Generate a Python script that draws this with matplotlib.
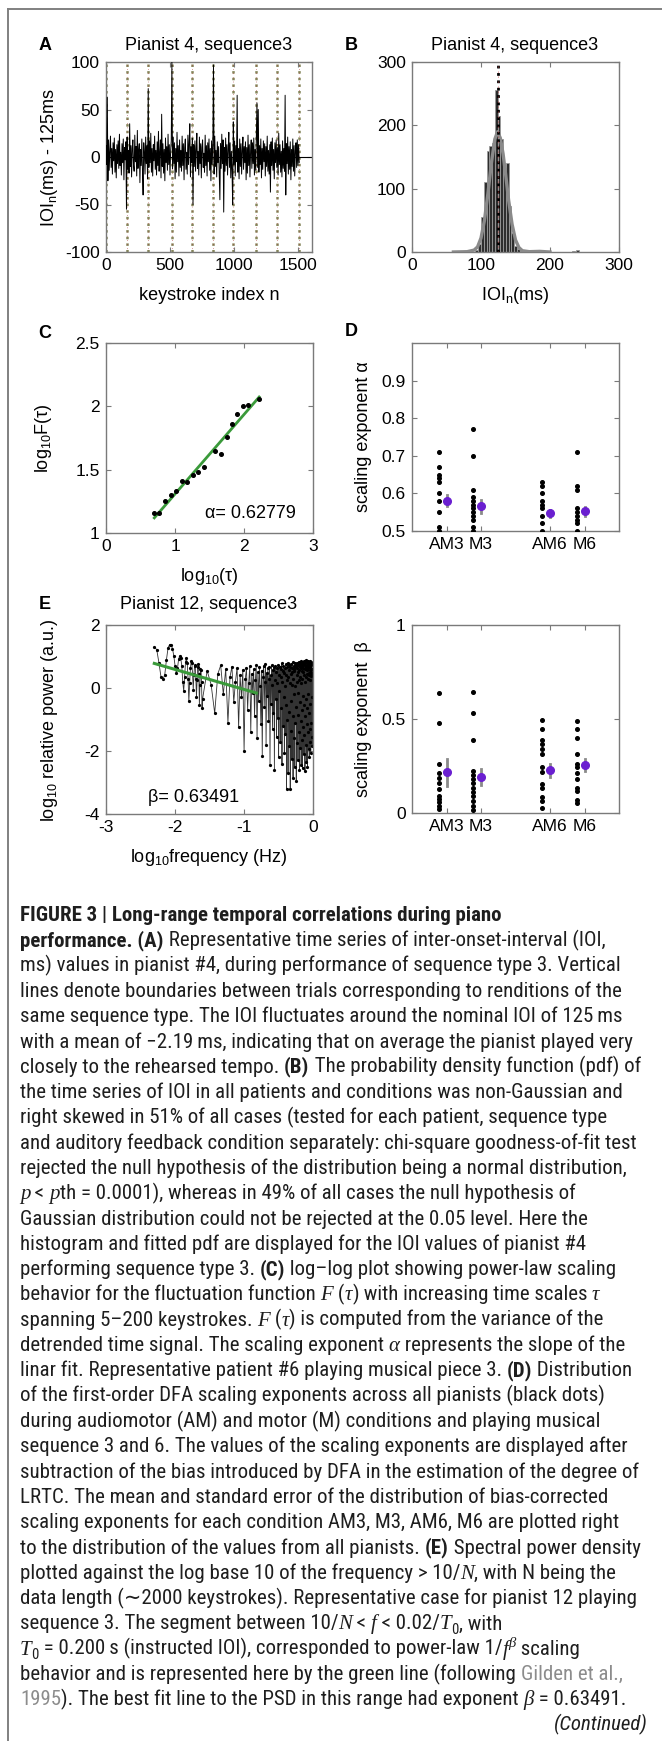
import matplotlib
matplotlib.use('Agg')
import matplotlib.pyplot as plt
import matplotlib.font_manager as fm
import numpy as np
from matplotlib.lines import Line2D
from matplotlib.font_manager import FontProperties

plt.rcParams['font.family'] = ['Liberation Sans', 'DejaVu Sans']
plt.rcParams['axes.unicode_minus'] = False
plt.rcParams['mathtext.fontset'] = 'custom'
plt.rcParams['mathtext.rm'] = 'Liberation Sans'
plt.rcParams['mathtext.it'] = 'Liberation Sans:italic'
plt.rcParams['mathtext.bf'] = 'Liberation Sans:bold'

# ---------------- data ----------------
# A: IOI deviation (ms), one value every 5 keystrokes
ioi_step = 5
ioi_dev = [
    12, -8, 63, -25, 18, -14, 6, 22, -11, 9, -18, 15, -4, 20, -16, 8, -22, 13, -7, 17,
    -12, 24, -9, 5, -19, 14, -6, 19, -24, 10, -3, 16, -55, 21, -13, 7, -17, 35, -10, 12,
    -21, 9, 18, -8, -15, 23, -5, 11, -20, 28, -12, 6, 14, -27, 8, -9, 19, -14, -40, 15,
    4, -18, 21, -7, 12, -23, 72, -11, 17, -6, 25, -16, 9, -20, 13, -4, 22, -13, 7, -19,
    16, -9, 27, -15, 5, 18, -22, 45, -10, 14, -17, 8, -25, 20, -6, 11, -14, 24, -8, 13,
    -19, 6, 17, 100, -12, 21, -7, 15, -23, 9, -16, 26, -5, 12, -20, 18, -11, 7, -15, 22,
    -9, 14, -24, 10, 19, -13, 5, -18, 23, -8, 16, 35, -21, 11, -6, 20, -50, 13, -10, 17,
    -15, 8, 25, -12, 6, -19, 21, -7, 14, -22, 10, 18, -11, 4, -16, 23, -9, 12, -20, 15,
    -5, 19, -14, 9, -25, 17, -8, 13, 97, -18, 22, -10, 7, -21, 16, -6, 11, -17, -45, 14,
    -12, 24, -7, 18, -58, 10, -15, 20, -9, 13, -19, 8, 26, -11, 15, -22, 6, -14, -50, 37,
    -8, 17, -20, 12, -5, 65, -16, 9, -23, 19, -10, 14, -18, 7, 21, -13, 11, -6, 16, -24,
    10, -17, 23, -9, 13, -21, 6, 18, -12, 15, -7, 20, -19, 8, -14, 24, 57, -11, 50, -16,
    12, -8, 19, -22, 9, -13, 17, -5, 14, -20, 11, -10, 22, -15, 7, -18, 13, -37, 16, -9,
    20, -14, 8, -23, 15, -6, 18, -11, 10, -19, 25, -8, 13, -16, 6, -21, 17, -12, 9, -15,
    65, -40, 14, -7, 21, -18, 11, -13, 16, -24, 8, -10, 19, -15, 12, -20, 7, 15, -11, 18,
    -9, 13, -6]
trial_bounds = [0, 163, 327, 514, 671, 840, 996, 1174, 1336, 1510]

# B: histogram of IOI (ms)
hist_centers = [70, 94, 98, 102, 106, 110, 114, 118, 122, 126, 130, 134, 138, 142, 146, 150, 154, 158, 190, 234, 240]
hist_counts = [2, 3, 12, 55, 110, 160, 168, 172, 255, 215, 178, 132, 140, 72, 30, 10, 4, 2, 1, 2, 3]
fit_x = [60, 80, 90, 95, 100, 105, 110, 115, 120, 124, 128, 132, 136, 140, 145, 150, 155, 160, 170, 185, 200]
fit_y = [0, 0.5, 3, 8, 22, 50, 92, 140, 178, 190, 180, 155, 120, 82, 44, 19, 7, 2, 0.5, 1, 0]
nominal_ioi = 125

# C: DFA fluctuation function
log_tau = [0.70, 0.77, 0.85, 0.94, 1.02, 1.10, 1.18, 1.26, 1.34, 1.42, 1.58, 1.66, 1.75, 1.82, 1.90, 1.98, 2.06, 2.22]
log_F = [1.16, 1.155, 1.25, 1.30, 1.33, 1.41, 1.40, 1.46, 1.48, 1.52, 1.65, 1.62, 1.76, 1.86, 1.94, 2.00, 2.01, 2.06]
alpha = 0.62779
alpha_icpt = 0.68
alpha_range = [0.70, 2.22]

# D / F: scaling exponents per condition
conds = ['AM3', 'M3', 'AM6', 'M6']
cond_pos = [1, 2, 4, 5]
alpha_vals = [
    [0.71, 0.67, 0.65, 0.64, 0.63, 0.60, 0.58, 0.55, 0.51, 0.50],
    [0.77, 0.70, 0.61, 0.59, 0.58, 0.57, 0.56, 0.55, 0.54, 0.53, 0.51, 0.50],
    [0.63, 0.62, 0.60, 0.58, 0.57, 0.56, 0.54, 0.52, 0.50],
    [0.71, 0.62, 0.61, 0.56, 0.55, 0.54, 0.53, 0.52, 0.50]]
alpha_mean = [0.581, 0.566, 0.547, 0.553]
alpha_sem = [0.015, 0.017, 0.010, 0.012]
beta_vals = [
    [0.637, 0.478, 0.262, 0.212, 0.186, 0.159, 0.127, 0.092, 0.074, 0.057, 0.039, 0.021],
    [0.642, 0.531, 0.389, 0.223, 0.204, 0.181, 0.159, 0.133, 0.112, 0.092, 0.062, 0.039, 0.018],
    [0.496, 0.448, 0.386, 0.368, 0.343, 0.315, 0.244, 0.218, 0.156, 0.133, 0.083, 0.062, 0.027],
    [0.490, 0.448, 0.398, 0.313, 0.260, 0.244, 0.212, 0.181, 0.133, 0.119, 0.071, 0.053]]
beta_mean = [0.216, 0.193, 0.227, 0.255]
beta_sem = [0.071, 0.042, 0.033, 0.030]

# E: power spectrum, frequency bins k * df
psd_df = 10 ** -3.379
psd_bins = np.r_[np.arange(12, 60), np.arange(60, 2340, 10)]
psd_log = [
    1.30, 1.22, 0.80, 0.35, 0.27, 0.42, 0.90, 1.28, 1.38, 1.37, 1.25, 1.02,
    0.70, 0.48, 0.62, 0.92, 1.02, 0.95, 0.70, 0.20, -0.10, 0.35, 0.82, 0.95,
    0.78, 0.30, -0.42, 0.15, 0.62, 0.85, 0.80, 0.45, -0.05, 0.40, 0.72, 0.70,
    0.30, -0.30, 0.25, 0.68, 0.75, 0.45, -0.55, 0.10, 0.60, 0.58, 0.20, -0.62,
    -0.35, 0.55, 0.10, -0.80, 0.45, 0.72, -0.20, 0.60, -1.10, 0.35, 0.68, -0.45,
    0.20, 0.65, -1.25, 0.40, -0.30, 0.58, -2.00, 0.30, 0.62, -0.70, 0.15, 0.70,
    -1.40, 0.45, -0.15, 0.60, -0.90, 0.25, 0.72, -1.60, 0.50, -0.40, 0.66, 0.05,
    -1.15, 0.55, -2.15, 0.35, 0.70, -0.60, 0.20, 0.75, -1.80, 0.48, -0.25, 0.62,
    -1.05, 0.30, 0.68, -2.45, 0.40, -0.50, 0.72, 0.10, -1.30, 0.58, -0.80, 0.66,
    -2.60, 0.25, 0.70, -0.35, 0.50, -1.55, 0.64, 0.15, -0.95, 0.74, -2.20, 0.42,
    -0.10, 0.68, -1.70, 0.35, 0.60, -0.65, 0.78, -2.40, 0.20, 0.55, -1.20, 0.70,
    -0.30, 0.48, -2.05, 0.62, 0.05, -1.45, 0.75, -0.55, 0.40, -3.20, 0.66, 0.25,
    -1.00, 0.80, -2.70, 0.35, 0.58, -0.75, 0.72, -1.85, 0.15, 0.68, -3.20, 0.45,
    -0.40, 0.76, -1.35, 0.52, -2.25, 0.64, 0.10, -0.90, 0.82, -2.85, 0.30, 0.60,
    -1.60, 0.70, -0.20, 0.55, -2.50, 0.78, 0.05, -1.10, 0.66, -0.60, 0.74, -2.95,
    0.40, 0.62, -1.75, 0.20, 0.80, -0.85, 0.50, -2.30, 0.72, -0.15, 0.58, -1.40,
    0.84, 0.25, -2.60, 0.68, -0.45, 0.76, -1.90, 0.35, 0.62, -1.05, 0.86, -2.45,
    0.15, 0.70, -0.70, 0.55, -1.65, 0.80, 0.30, -2.55, 0.64, -0.25, 0.74, -1.25,
    0.50, 0.85, -2.10, 0.40, -0.55, 0.78, -1.50, 0.60, 0.20, -2.65, 0.72, -0.90,
    0.82, 0.35, -1.80, 0.66, -0.35, 0.88, -2.35, 0.45, 0.70, -1.15, 0.56, -0.65,
    0.80, -2.50, 0.30, 0.75, -1.40, 0.62, -0.20, 0.86, -1.95, 0.48, 0.68, -0.80,
    0.78, -2.20, 0.40, 0.72, -1.30, 0.58, 0.85, -1.70, 0.25, 0.66, -0.50, 0.80,
    -2.05, 0.52, 0.74, -1.10, 0.38, 0.82, -1.55, 0.60, -0.30, 0.78, -1.85, 0.45]
beta = 0.63491
beta_icpt = -0.68
beta_range = [-2.30, -0.82]

# ---------------- figure ----------------
W, H = 662, 1741
fig = plt.figure(figsize=(W / 100, H / 100), dpi=100)
fig.patch.set_facecolor('white')
SPINE = '#7a7a7a'
TICK_FS = 12.5
LAB_FS = 13


def px_axes(l, t, r, b):
    ax = fig.add_axes([l / W, 1 - b / H, (r - l) / W, (b - t) / H])
    for s in ax.spines.values():
        s.set_color(SPINE)
        s.set_linewidth(1.0)
    ax.tick_params(direction='in', top=True, right=True, length=3.5, width=0.8,
                   color=SPINE, labelsize=TICK_FS)
    ax.tick_params(axis='y', pad=4.5)
    ax.tick_params(axis='x', pad=4.5)
    return ax


def ftext(x, y, s, **kw):
    return fig.text(x / W, 1 - y / H, s, **kw)


# A
axA = px_axes(106, 62, 312, 252)
for xb in trial_bounds:
    axA.axvline(xb, color='#85855a', ls=':', lw=1.8, zorder=1)
    axA.axvline(xb, color='#b04040', ls=(1, (1, 5)), lw=0.5, zorder=1)
axA.axhline(0, color='k', lw=0.8, zorder=2)
axA.plot(np.arange(len(ioi_dev)) * ioi_step, ioi_dev, color='k', lw=0.7, zorder=3)
axA.set_xlim(0, 1610)
axA.set_ylim(-100, 100)
axA.set_xticks([0, 500, 1000, 1500])
axA.set_yticks([-100, -50, 0, 50, 100])

# B
axB = px_axes(412, 62, 619, 252)
axB.bar(hist_centers, hist_counts, width=4, color='#2e2e2e', edgecolor='#9a9a9a', linewidth=0.6, zorder=2)
axB.plot(fit_x, fit_y, color='#8a8a8a', lw=2.4, zorder=3)
axB.axvline(nominal_ioi, color='k', ls=':', lw=2.0, zorder=4)
axB.axvline(nominal_ioi, color='#d04040', ls=(0, (1, 5)), lw=0.6, zorder=5)
axB.set_xlim(0, 300)
axB.set_ylim(0, 300)
axB.set_xticks([0, 100, 200, 300])
axB.set_yticks([0, 100, 200, 300])

# C
axC = px_axes(106, 343, 313, 533)
axC.plot(log_tau, log_F, 'o', color='k', ms=2.6, zorder=3)
lx = np.array(alpha_range)
axC.plot(lx, alpha * lx + alpha_icpt, color='#3a9a3a', lw=2.0, zorder=2)
axC.text(1.43, 1.15, 'α= 0.62779', fontsize=LAB_FS, va='center')
axC.set_xlim(0, 3)
axC.set_ylim(1, 2.5)
axC.set_xticks([0, 1, 2, 3])
axC.set_yticks([1, 1.5, 2, 2.5])
axC.set_yticklabels(['1', '1.5', '2', '2.5'])


def scatter_panel(ax, vals, means, sems):
    for p, v, m, e in zip(cond_pos, vals, means, sems):
        ax.plot([p - 0.22] * len(v), v, 'o', color='k', ms=2.6, zorder=3)
        ax.plot([p, p], [m - e, m + e], color='#8a8a8a', lw=2.0, zorder=2)
        ax.plot([p], [m], 'o', color='#6a1fd0', ms=5.5, zorder=4)
    ax.set_xlim(0, 6)
    ax.set_xticks(cond_pos)
    ax.set_xticklabels(conds)


# D
axD = px_axes(412, 343, 619, 531)
scatter_panel(axD, alpha_vals, alpha_mean, alpha_sem)
axD.set_ylim(0.5, 1.0)
axD.set_yticks([0.5, 0.6, 0.7, 0.8, 0.9])
axD.set_yticklabels(['0.5', '0.6', '0.7', '0.8', '0.9'])

# E
axE = px_axes(106, 625, 313, 814)
fx = np.log10(psd_bins * psd_df)
axE.plot(fx, psd_log, '-', color='#333333', lw=0.6, marker='.', ms=2.6, mfc='k', mec='k', zorder=2)
bx = np.array(beta_range)
axE.plot(bx, -beta * bx + beta_icpt, color='#3a9a3a', lw=2.2, zorder=3)
axE.text(-2.39, -3.47, 'β= 0.63491', fontsize=LAB_FS, va='center')
axE.set_xlim(-3, 0)
axE.set_ylim(-4, 2)
axE.set_xticks([-3, -2, -1, 0])
axE.set_yticks([-4, -2, 0, 2])

# F
axF = px_axes(412, 625, 619, 813)
scatter_panel(axF, beta_vals, beta_mean, beta_sem)
axF.set_ylim(0, 1)
axF.set_yticks([0, 0.5, 1])
axF.set_yticklabels(['0', '0.5', '1'])

# titles, letters, axis labels
for lx_, ly_, s in [(45, 45, 'A'), (351, 45, 'B'), (45, 333, 'C'), (351, 332, 'D'), (45, 605, 'E'), (351, 605, 'F')]:
    ftext(lx_, ly_, s, fontsize=13, fontweight='bold', ha='center', va='center')
ftext(209, 45, 'Pianist 4, sequence3', fontsize=LAB_FS, ha='center', va='center')
ftext(515, 45, 'Pianist 4, sequence3', fontsize=LAB_FS, ha='center', va='center')
ftext(209, 605, 'Pianist 12, sequence3', fontsize=LAB_FS, ha='center', va='center')

ftext(209, 295, 'keystroke index n', fontsize=LAB_FS, ha='center', va='center')
ftext(515, 295, r'IOI$_{\rm n}$(ms)', fontsize=LAB_FS, ha='center', va='center')
ftext(209, 577, r'log$_{\rm 10}$(τ)', fontsize=LAB_FS, ha='center', va='center')
ftext(209, 858, r'log$_{\rm 10}$frequency (Hz)', fontsize=LAB_FS, ha='center', va='center')
ftext(50, 157, r'IOI$_{\rm n}$(ms) - 125ms', fontsize=LAB_FS, ha='center', va='center', rotation=90)
ftext(44, 438, r'log$_{\rm 10}$F(τ)', fontsize=LAB_FS, ha='center', va='center', rotation=90)
ftext(363, 437, 'scaling exponent α', fontsize=LAB_FS, ha='center', va='center', rotation=90)
ftext(50, 720, r'log$_{\rm 10}$ relative power (a.u.)', fontsize=LAB_FS, ha='center', va='center', rotation=90)
ftext(364, 719, 'scaling exponent  β', fontsize=LAB_FS, ha='center', va='center', rotation=90)

# frame lines of the page
fig.add_artist(Line2D([8 / W, 1], [1 - 9 / H, 1 - 9 / H], color='#808080', lw=1.4))
fig.add_artist(Line2D([8 / W, 8 / W], [1 - 9 / H, 0], color='#808080', lw=1.4))

# ---------------- caption ----------------
caption = [
    [("FIGURE 3 | Long-range temporal correlations during piano", 'b')],
    [("performance. (A)", 'b'), (" Representative time series of inter-onset-interval (IOI,", 'r')],
    [("ms) values in pianist #4, during performance of sequence type 3. Vertical", 'r')],
    [("lines denote boundaries between trials corresponding to renditions of the", 'r')],
    [("same sequence type. The IOI fluctuates around the nominal IOI of 125\u2009ms", 'r')],
    [("with a mean of \u22122.19\u2009ms, indicating that on average the pianist played very", 'r')],
    [("closely to the rehearsed tempo. ", 'r'), ("(B)", 'b'), (" The probability density function (pdf) of", 'r')],
    [("the time series of IOI in all patients and conditions was non-Gaussian and", 'r')],
    [("right skewed in 51% of all cases (tested for each patient, sequence type", 'r')],
    [("and auditory feedback condition separately: chi-square goodness-of-fit test", 'r')],
    [("rejected the null hypothesis of the distribution being a normal distribution,", 'r')],
    [("p", 'i'), (" < ", 'r'), ("p", 'i'), ("th = 0.0001), whereas in 49% of all cases the null hypothesis of", 'r')],
    [("Gaussian distribution could not be rejected at the 0.05 level. Here the", 'r')],
    [("histogram and fitted pdf are displayed for the IOI values of pianist #4", 'r')],
    [("performing sequence type 3. ", 'r'), ("(C)", 'b'), (" log\u2013log plot showing power-law scaling", 'r')],
    [("behavior for the fluctuation function ", 'r'), ("F", 'i'), (" (", 'r'), ("τ", 'i'), (")", 'r'),
     (" with increasing time scales ", 'r'), ("τ", 'i')],
    [("spanning 5\u2013200 keystrokes. ", 'r'), ("F", 'i'), (" (", 'r'), ("τ", 'i'),
     (") is computed from the variance of the", 'r')],
    [("detrended time signal. The scaling exponent ", 'r'), ("α", 'i'), (" represents the slope of the", 'r')],
    [("linar fit. Representative patient #6 playing musical piece 3. ", 'r'), ("(D)", 'b'), (" Distribution", 'r')],
    [("of the first-order DFA scaling exponents across all pianists (black dots)", 'r')],
    [("during audiomotor (AM) and motor (M) conditions and playing musical", 'r')],
    [("sequence 3 and 6. The values of the scaling exponents are displayed after", 'r')],
    [("subtraction of the bias introduced by DFA in the estimation of the degree of", 'r')],
    [("LRTC. The mean and standard error of the distribution of bias-corrected", 'r')],
    [("scaling exponents for each condition AM3, M3, AM6, M6 are plotted right", 'r')],
    [("to the distribution of the values from all pianists. ", 'r'), ("(E)", 'b'), (" Spectral power density", 'r')],
    [("plotted against the log base 10 of the frequency > 10/", 'r'), ("N", 'i'), (", with N being the", 'r')],
    [("data length (\u223c2000 keystrokes). Representative case for pianist 12 playing", 'r')],
    [("sequence 3. The segment between 10/", 'r'), ("N", 'i'), (" < ", 'r'), ("f", 'i'), (" < 0.02/", 'r'),
     ("T", 'i'), ("0", 'sub'), (", with", 'r')],
    [("T", 'i'), ("0", 'sub'), (" = 0.200\u2009s (instructed IOI), corresponded to power-law 1/", 'r'), ("f", 'i'),
     ("β", 'sup'), (" scaling", 'r')],
    [("behavior and is represented here by the green line (following ", 'r'), ("Gilden et al.,", 'g')],
    [("1995", 'g'), ("). The best fit line to the PSD in this range had exponent ", 'r'), ("β", 'i'),
     (" = 0.63491.", 'r')],
]


def pick_caption_font():
    entries = {(f.name, f.stretch) for f in fm.fontManager.ttflist}
    names = {n for n, _ in entries}
    for name in ['Liberation Sans Narrow', 'Arial Narrow', 'Roboto Condensed', 'Open Sans Condensed',
                 'Noto Sans Condensed', 'DejaVu Sans Condensed']:
        if name in names:
            return name, 'normal'
    for name in ['Roboto', 'Noto Sans', 'DejaVu Sans', 'Open Sans']:
        for st in ['condensed', 'semi-condensed', 'extra-condensed']:
            if (name, st) in entries:
                return name, st
    return 'Liberation Sans', 'normal'


cap_family, cap_stretch = pick_caption_font()
NARROW = [cap_family, 'DejaVu Sans']
SERIF = ['Liberation Serif', 'DejaVu Serif']
CAP_COL = '#1e1e1e'
renderer = fig.canvas.get_renderer()


def make_style(key, size):
    st = {'r': dict(family=NARROW, stretch=cap_stretch, size=size),
          'b': dict(family=NARROW, stretch=cap_stretch, size=size, weight='bold'),
          'i': dict(family=SERIF, size=size, style='italic'),
          'g': dict(family=NARROW, stretch=cap_stretch, size=size),
          'sub': dict(family=NARROW, stretch=cap_stretch, size=size * 0.7),
          'sup': dict(family=SERIF, size=size * 0.7, style='italic')}[key]
    shift = {'sub': 0.3 * size, 'sup': -0.5 * size}.get(key, 0)
    col = '#8c8c8c' if key == 'g' else CAP_COL
    return FontProperties(**st), shift, col


def run_width(s, fp):
    w1 = renderer.get_text_width_height_descent('|' + s + '|', fp, ismath=False)[0]
    w0 = renderer.get_text_width_height_descent('||', fp, ismath=False)[0]
    return w1 - w0


def line_width(line, size):
    return sum(run_width(s, make_style(k, size)[0]) for s, k in line)


# fit the caption to the text block width of the page
base = 14.0
widest = max(line_width(l, base) for l in caption)
cap_fs = min(15.0, base * 628.0 / widest)

x0, y0, dy_line = 20, 921, 25.3
for i, line in enumerate(caption):
    x = x0
    for s, key in line:
        fp, shift, col = make_style(key, cap_fs)
        ftext(x, y0 + i * dy_line + shift, s, fontproperties=fp, color=col, va='baseline', ha='left')
        x += run_width(s, fp)

ftext(648, y0 + len(caption) * dy_line, '(Continued)',
      fontproperties=FontProperties(family=NARROW, stretch=cap_stretch, size=cap_fs, style='italic'),
      color=CAP_COL, va='baseline', ha='right')

fig.savefig('out.png', dpi=100)
